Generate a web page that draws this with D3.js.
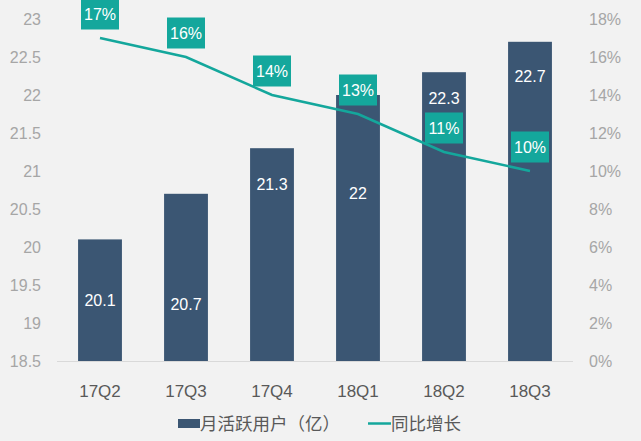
<!DOCTYPE html>
<html><head><meta charset="utf-8">
<script src="https://cdn.jsdelivr.net/npm/d3@7"></script>
<style>
html,body{margin:0;padding:0;background:#f2f2f2;}
svg{display:block;font-family:Arial,"Liberation Sans","Noto Sans CJK SC",sans-serif;}
</style></head>
<body>
<svg id="c" width="641" height="441"></svg>
<script>
const categories = ["17Q2","17Q3","17Q4","18Q1","18Q2","18Q3"];
const mau = [20.1, 20.7, 21.3, 22, 22.3, 22.7];
const growth = [17, 16, 14, 13, 11, 10];
const leftTicks = [18.5,19,19.5,20,20.5,21,21.5,22,22.5,23];
const rightTicks = [0,2,4,6,8,10,12,14,16,18];
const seriesNames = ["月活跃用户（亿）","同比增长"];

// label anchor placement (in left-axis units) as seen in the reference
const barLabelAt = [19.3, 19.25, 20.83, 20.7, 21.95, 22.25];

const svg = d3.select("#c");
const barColor = "#3b5673", teal = "#14a79c";
const x = d3.scaleBand().domain(categories).range([57,573]).padding(0);
const yL = d3.scaleLinear().domain([18.5,23]).range([361,19]);
const yR = d3.scaleLinear().domain([0,18]).range([361,19]);
const bw = x.bandwidth()*0.51;

// axes labels
svg.append("g").selectAll("text").data(leftTicks).join("text")
  .attr("x",41).attr("y",d=>yL(d)).attr("dy","0.35em").attr("text-anchor","end")
  .attr("fill","#a6a6a6").attr("font-size",16).text(d=>d3.format("")(d));
svg.append("g").selectAll("text").data(rightTicks).join("text")
  .attr("x",589).attr("y",d=>yR(d)).attr("dy","0.35em").attr("text-anchor","start")
  .attr("fill","#a6a6a6").attr("font-size",16).text(d=>d+"%");

// bars
svg.append("g").selectAll("rect").data(mau).join("rect")
  .attr("x",(d,i)=>x(categories[i])+x.bandwidth()/2-bw/2)
  .attr("width",bw).attr("y",d=>yL(d)).attr("height",d=>yL(18.5)-yL(d))
  .attr("fill",barColor);

// baseline
svg.append("line").attr("x1",57).attr("x2",573).attr("y1",yL(18.5)+0.5).attr("y2",yL(18.5)+0.5)
  .attr("stroke","#d9d9d9").attr("stroke-width",1);

// category labels
svg.append("g").selectAll("text").data(categories).join("text")
  .attr("x",d=>x(d)+x.bandwidth()/2).attr("y",391).attr("dy","0.35em")
  .attr("text-anchor","middle").attr("fill","#595959").attr("font-size",17).text(d=>d);

// bar value labels
svg.append("g").selectAll("text").data(mau).join("text")
  .attr("x",(d,i)=>x(categories[i])+x.bandwidth()/2).attr("y",(d,i)=>yL(barLabelAt[i]))
  .attr("dy","0.35em").attr("text-anchor","middle").attr("fill","#fff").attr("font-size",16)
  .text(d=>d);

// line
const line = d3.line().x((d,i)=>x(categories[i])+x.bandwidth()/2).y(d=>yR(d));
svg.append("path").datum(growth).attr("d",line).attr("fill","none")
  .attr("stroke",teal).attr("stroke-width",2.5);

// growth labels
const g = svg.append("g").selectAll("g").data(growth).join("g")
  .attr("transform",(d,i)=>`translate(${x(categories[i])+x.bandwidth()/2},${yR(d)-24})`);
g.append("rect").attr("x",-19).attr("y",-15.5).attr("width",38).attr("height",31).attr("fill",teal);
g.append("text").attr("text-anchor","middle").attr("dy","0.35em").attr("fill","#fff")
  .attr("font-size",16).text(d=>d+"%");

// legend
const lg = svg.append("g");
lg.append("rect").attr("x",178).attr("y",419).attr("width",22).attr("height",9).attr("fill",barColor);
lg.append("text").attr("x",200).attr("y",424).attr("dy","0.35em").attr("fill","#595959")
  .attr("font-size",17.5).text(seriesNames[0]);
lg.append("line").attr("x1",368).attr("x2",391).attr("y1",423.5).attr("y2",423.5)
  .attr("stroke",teal).attr("stroke-width",2.5);
lg.append("text").attr("x",391).attr("y",424).attr("dy","0.35em").attr("fill","#595959")
  .attr("font-size",17.5).text(seriesNames[1]);
</script>
</body></html>
